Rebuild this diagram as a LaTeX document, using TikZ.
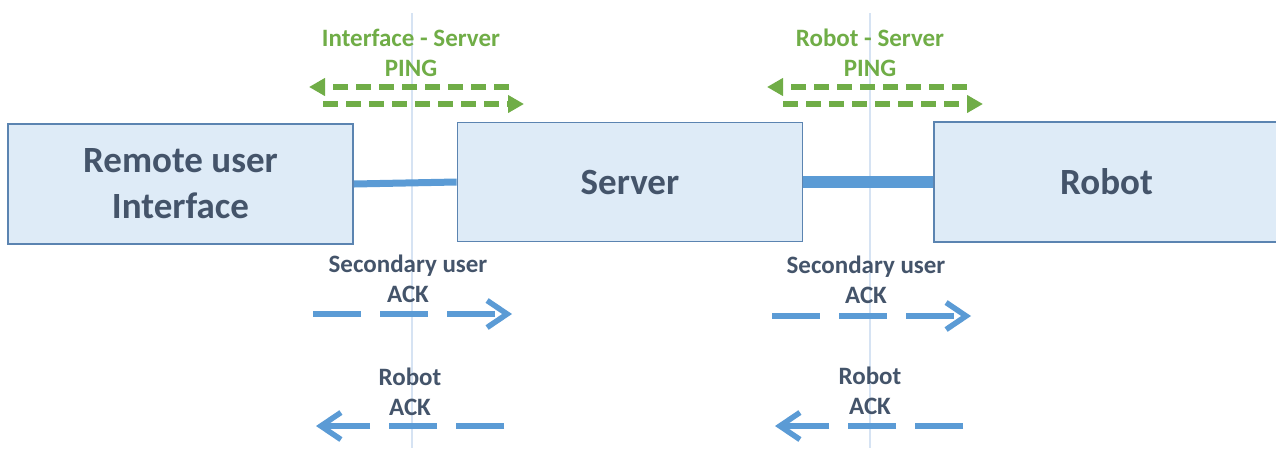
\documentclass[tikz,border=0pt]{standalone}
\usepackage{fontspec}
\setmainfont{Carlito}
\usetikzlibrary{arrows.meta}
\definecolor{boxfill}{HTML}{DEEBF7}
\definecolor{boxdraw}{HTML}{5B84B1}
\definecolor{linkblue}{HTML}{5B9BD5}
\definecolor{pinggreen}{HTML}{70AD47}
\definecolor{txtdark}{HTML}{44546A}
\definecolor{guide}{HTML}{D6E3F3}
\tikzset{
  unitbox/.style={draw=boxdraw, line width=1.8pt, fill=boxfill, minimum width=345pt, minimum height=120pt, inner sep=0pt, align=center, text=txtdark, font=\fontsize{37}{46}\selectfont\bfseries},
  pinglabel/.style={align=center, text=pinggreen, font=\fontsize{25}{30}\selectfont\bfseries, inner sep=0pt},
  acklabel/.style={align=center, text=txtdark, font=\fontsize{25}{30}\selectfont\bfseries, inner sep=0pt},
  pingarrow/.style={draw=pinggreen, line width=6pt, dash pattern=on 15pt off 8pt, -{Triangle[length=16pt,width=17pt]}},
  ackarrow/.style={draw=linkblue, line width=5.5pt, dash pattern=on 48pt off 19pt, -{Straight Barb[length=20pt,width=27pt,line width=5.5pt]}},
  guideline/.style={draw=guide, line width=1.8pt},
  link/.style={draw=linkblue}
}
\begin{document}
\begin{tikzpicture}[x=1pt,y=-1pt]
\useasboundingbox (0,0) rectangle (1276,448);
% guide lines
\coordinate (g1t) at (412,13); \coordinate (g1b) at (412,448);
\coordinate (g2t) at (870,13); \coordinate (g2b) at (870,448);
\draw[guideline] (g1t) -- (g1b);
\draw[guideline] (g2t) -- (g2b);
% boxes
\node[unitbox] (rui) at (180.5,184) {Remote user\\Interface};
\node[unitbox, minimum height=119pt] (server) at (630,182) {Server};
\node[unitbox] (robot) at (1106.5,182) {Robot};
% links
\draw[link, line width=7pt] (rui.east) -- (server.west);
\draw[link, line width=12pt] (server.east) -- (robot.west);
% ping labels
\node[pinglabel] (pl1) at (411,53) {Interface - Server\\PING};
\node[pinglabel] (pl2) at (870,53) {Robot - Server\\PING};
% ping arrows
\coordinate (p1a) at (509,87); \coordinate (p1b) at (309,87);
\coordinate (p1c) at (323,104); \coordinate (p1d) at (524,104);
\draw[pingarrow] (p1a) -- (p1b);
\draw[pingarrow] (p1c) -- (p1d);
\coordinate (p2a) at (967,87); \coordinate (p2b) at (767,87);
\coordinate (p2c) at (783,104); \coordinate (p2d) at (983,104);
\draw[pingarrow] (p2a) -- (p2b);
\draw[pingarrow] (p2c) -- (p2d);
% ack labels
\node[acklabel] (s1) at (408,279) {Secondary user\\ACK};
\node[acklabel] (s2) at (866,280) {Secondary user\\ACK};
\node[acklabel] (r1) at (410,392) {Robot\\ACK};
\node[acklabel] (r2) at (870,391) {Robot\\ACK};
% ack arrows
\coordinate (a1a) at (313,314); \coordinate (a1b) at (512,314);
\coordinate (a2a) at (504,426); \coordinate (a2b) at (316,426);
\coordinate (a3a) at (772,316); \coordinate (a3b) at (971,316);
\coordinate (a4a) at (963,426); \coordinate (a4b) at (775,426);
\draw[ackarrow] (a1a) -- (a1b);
\draw[ackarrow] (a2a) -- (a2b);
\draw[ackarrow] (a3a) -- (a3b);
\draw[ackarrow] (a4a) -- (a4b);
\end{tikzpicture}
\end{document}
